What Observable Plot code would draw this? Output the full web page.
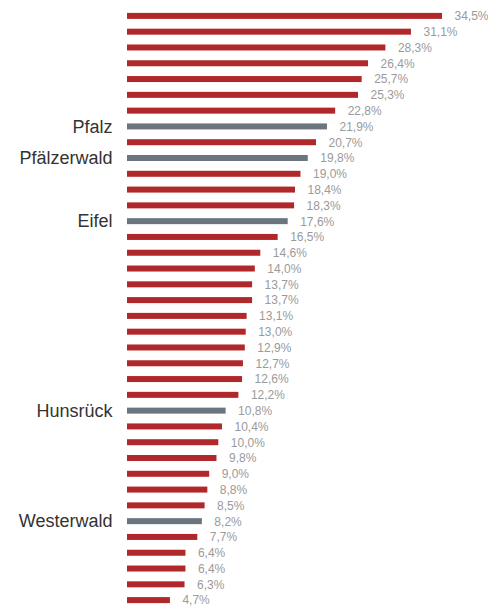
<!DOCTYPE html>
<html>
<head>
<meta charset="utf-8">
<script src="https://cdn.jsdelivr.net/npm/d3@7"></script>
<script src="https://cdn.jsdelivr.net/npm/@observablehq/plot@0.6"></script>
<style>
  html, body { margin: 0; padding: 0; background: #fff; }
  #chart svg { display: block; }
</style>
</head>
<body>
<div id="chart"></div>
<script>
// Region labels (only the highlighted regions are named in the chart)
const labels = [
  "", "", "", "", "", "", "", "Pfalz", "", "Pfälzerwald",
  "", "", "", "Eifel", "", "", "", "", "", "",
  "", "", "", "", "", "Hunsrück", "", "", "", "",
  "", "", "Westerwald", "", "", "", "", ""
];
// Values in percent
const values = [
  34.5, 31.1, 28.3, 26.4, 25.7, 25.3, 22.8, 21.9, 20.7, 19.8,
  19.0, 18.4, 18.3, 17.6, 16.5, 14.6, 14.0, 13.7, 13.7, 13.1,
  13.0, 12.9, 12.7, 12.6, 12.2, 10.8, 10.4, 10.0, 9.8, 9.0,
  8.8, 8.5, 8.2, 7.7, 6.4, 6.4, 6.3, 4.7
];

const data = values.map((v, i) => ({
  id: i,
  label: labels[i],
  value: v,
  highlight: labels[i] !== ""
}));

const fmt = v => v.toFixed(1).replace(".", ",") + "%";

const chart = Plot.plot({
  width: 488,
  height: 608,
  marginTop: 8,
  marginBottom: 0,
  marginLeft: 127,
  marginRight: 46,
  x: { domain: [0, 34.5], axis: null },
  y: { domain: data.map(d => d.id), axis: null, paddingInner: 0.62, paddingOuter: 0.31, round: false },
  marks: [
    Plot.barX(data, {
      x: "value",
      y: "id",
      fill: d => d.highlight ? "#6c7480" : "#b0282a"
    }),
    Plot.text(data, {
      x: "value",
      y: "id",
      text: d => fmt(d.value),
      textAnchor: "start",
      dx: 12,
      fill: "#9a9a9a",
      fontSize: 12,
      fontFamily: "Liberation Sans, Arial, sans-serif"
    }),
    Plot.text(data.filter(d => d.highlight), {
      x: 0,
      y: "id",
      text: "label",
      textAnchor: "end",
      dx: -15,
      fill: "#333333",
      fontSize: 18,
      fontFamily: "Liberation Sans, Arial, sans-serif"
    })
  ]
});

document.getElementById("chart").appendChild(chart);
</script>
</body>
</html>
